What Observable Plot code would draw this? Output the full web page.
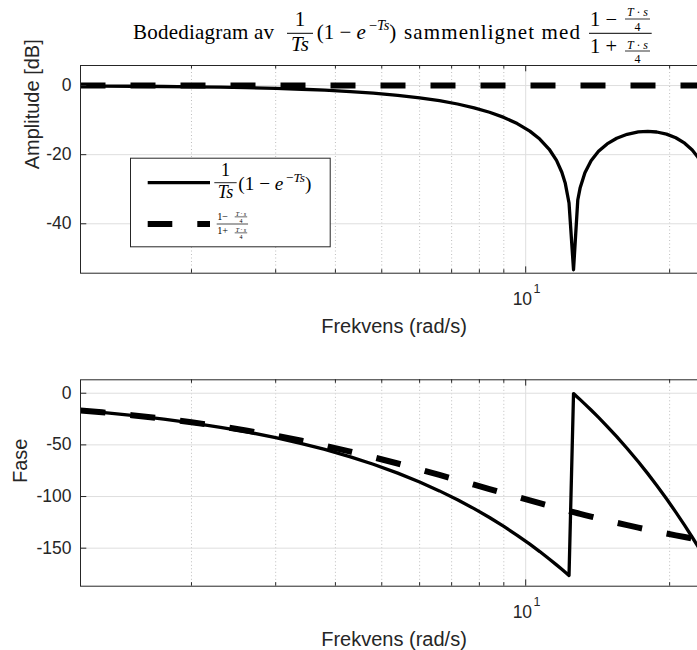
<!DOCTYPE html>
<html><head><meta charset="utf-8">
<script src="https://cdn.jsdelivr.net/npm/d3@7"></script>
<script src="https://cdn.jsdelivr.net/npm/@observablehq/plot@0.6"></script>
<style>
html,body{margin:0;padding:0;background:#fff;}
#wrap{position:relative;width:697px;height:650px;overflow:hidden;background:#fff;}
</style></head>
<body><div id="wrap"></div>
<script>
// ---- data ----
const freq = [1.172, 1.3, 1.5, 1.75, 2, 2.3, 2.6, 3, 3.4, 3.8, 4.3, 4.8, 5.4, 6, 6.6, 7.2, 7.8, 8.4, 9, 9.6, 10.2, 10.7, 11.2, 11.6, 11.9, 12.1, 12.32, 12.59, 12.85, 13.0, 13.3, 13.7, 14.2, 14.8, 15.5, 16.3, 17.2, 18, 18.8, 19.7, 20.6, 21.5, 22.3, 22.9, 23.5, 24];
const ampSolid = [-0.12, -0.15, -0.20, -0.28, -0.37, -0.48, -0.62, -0.83, -1.07, -1.35, -1.74, -2.20, -2.82, -3.54, -4.38, -5.34, -6.44, -7.72, -9.22, -11.01, -13.20, -15.49, -18.44, -21.67, -25.08, -28.30, -33.99, -53.3, -33.13, -29.55, -25.22, -21.76, -19.03, -16.88, -15.25, -14.10, -13.43, -13.26, -13.44, -14.05, -15.10, -16.67, -18.66, -20.68, -23.41, -26.64];
const phaseSolid = [-16.79, -18.62, -21.49, -25.07, -28.65, -32.94, -37.24, -42.97, -48.70, -54.43, -61.59, -68.75, -77.35, -85.94, -94.54, -103.13, -111.73, -120.32, -128.92, -137.51, -146.11, -153.27, -160.43, -166.16, -170.46, -173.32, -176.47, -0.34, -4.06, -6.21, -10.51, -16.24, -23.40, -31.99, -42.02, -53.48, -66.37, -77.83, -89.29, -102.18, -115.07, -127.96, -139.42, -148.02, -156.61, -163.77];
const phasePade = [-16.67, -18.46, -21.24, -24.68, -28.07, -32.08, -36.01, -41.11, -46.06, -50.83, -56.53, -61.93, -68.03, -73.74, -79.05, -83.97, -88.55, -92.79, -96.73, -100.39, -103.78, -106.44, -108.92, -110.81, -112.18, -113.06, -114.02, -115.17, -116.18, -116.76, -117.93, -119.44, -121.22, -123.23, -125.41, -127.71, -130.12, -132.07, -133.91, -135.78, -137.56, -139.18, -140.53, -141.49, -142.40, -143.13];
const ampPadeFreq = [1.172, 24];
const ampPade = [0, 0];

const ampTicks = [0, -20, -40];
const phaseTicks = [0, -50, -100, -150];
const majorX = [10];
const minorX = [2, 3, 4, 5, 6, 7, 8, 9, 20];
const xDomain = [1.172, 24];
const ampDomain = [-54.3, 5.8];
const phaseDomain = [-186.8, 13];
const xLabel = "Frekvens (rad/s)";
const ampLabel = "Amplitude [dB]";
const phaseLabel = "Fase";
const titleLead = "Bodediagram av";
const titleMid = "sammenlignet med";

const W = 707, ML = 80;

function panel({top, height, mt, mb, yDomain, yTicks, sFreq, solid, pFreq, pade, ylabel, ylabelDx}) {
  const ph = height - mt - mb;
  const pw = W - ML;
  const solidData = sFreq.map((f, i) => ({f, v: solid[i]}));
  const padeData = pFreq.map((f, i) => ({f, v: pade[i]}));
  const plot = Plot.plot({
    width: W, height, marginTop: mt, marginBottom: mb, marginLeft: ML, marginRight: 0,
    style: {fontFamily: '"Liberation Sans", Arial, sans-serif', fontSize: "17.5px", color: "#262626", background: "transparent", overflow: "visible", maxWidth: "none"},
    x: {type: "log", domain: xDomain, axis: null},
    y: {domain: yDomain, axis: null},
    marks: [
      Plot.ruleX(minorX, {stroke: "#bdbdbd", strokeWidth: 1, strokeDasharray: "1,2.5"}),
      Plot.ruleX(majorX, {stroke: "#dedede", strokeWidth: 1}),
      Plot.ruleY(yTicks, {stroke: "#dedede", strokeWidth: 1}),
      Plot.line(solidData, {x: "f", y: "v", stroke: "#000", strokeWidth: 3.3, clip: true, strokeLinejoin: "round"}),
      Plot.line(padeData, {x: "f", y: "v", stroke: "#000", strokeWidth: 6, strokeDasharray: "25,25", strokeLinecap: "butt", clip: true}),
      Plot.frame({stroke: "#262626", strokeWidth: 1}),
      Plot.ruleX(majorX, {stroke: "#262626", insetTop: ph - 6.3}),
      Plot.ruleX(majorX, {stroke: "#262626", insetBottom: ph - 6.3}),
      Plot.ruleX(minorX, {stroke: "#262626", insetTop: ph - 3.5}),
      Plot.ruleX(minorX, {stroke: "#262626", insetBottom: ph - 3.5}),
      Plot.ruleY(yTicks, {stroke: "#262626", insetRight: pw - 6.3}),
      Plot.axisY(yTicks, {tickSize: 0, tickPadding: 9, tickFormat: d => String(d), label: null}),
      Plot.text(majorX, {x: d => d, text: d => "10", frameAnchor: "bottom", dy: 31.3, dx: 6.4, textAnchor: "end", lineAnchor: "bottom", fontSize: 17.5, fill: "#262626"}),
      Plot.text(majorX, {x: d => d, text: d => String(Math.round(Math.log10(d))), frameAnchor: "bottom", dy: 19.5, dx: 7.7, textAnchor: "start", lineAnchor: "bottom", fontSize: 12.5, fill: "#262626"}),
      Plot.text([xLabel], {text: d => d, frameAnchor: "bottom", dy: 59.3, lineAnchor: "bottom", fontSize: 20, fill: "#262626"}),
      Plot.text([ylabel], {text: d => d, frameAnchor: "left", dx: -ylabelDx, rotate: -90, lineAnchor: "bottom", fontSize: 20, fill: "#262626"})
    ]
  });
  plot.style.position = "absolute";
  plot.style.left = "0px";
  plot.style.top = top + "px";
  return plot;
}

const wrap = document.getElementById("wrap");
wrap.appendChild(panel({top: 0, height: 340, mt: 65, mb: 67.3, yDomain: ampDomain, yTicks: ampTicks,
  sFreq: freq, solid: ampSolid, pFreq: ampPadeFreq, pade: ampPade, ylabel: ampLabel, ylabelDx: 42}));
wrap.appendChild(panel({top: 340, height: 310, mt: 39.3, mb: 64.3, yDomain: phaseDomain, yTicks: phaseTicks,
  sFreq: freq, solid: phaseSolid, pFreq: freq, pade: phasePade, ylabel: phaseLabel, ylabelDx: 54}));

// ---- title & legend overlay (text set like LaTeX) ----
const ov = d3.select(wrap).append("svg")
  .attr("width", 697).attr("height", 650)
  .style("position", "absolute").style("left", "0px").style("top", "0px")
  .attr("font-family", '"Liberation Serif","Times New Roman",serif')
  .attr("fill", "#000");

// parts: [string, italic, fontSize?, dy?]
function mtxt(g, x, y, parts, {size = 21, anchor = "start", len = null} = {}) {
  const t = g.append("text").attr("x", x).attr("y", y).attr("font-size", size).attr("text-anchor", anchor);
  for (const [s, it, fs, dy] of parts) {
    const sp = t.append("tspan").text(s);
    if (it) sp.attr("font-style", "italic");
    if (fs) sp.attr("font-size", fs);
    if (dy) sp.attr("dy", dy);
  }
  if (len) t.attr("textLength", len).attr("lengthAdjust", "spacing");
  return t;
}
function bar(g, x1, x2, y, w) {
  g.append("line").attr("x1", x1).attr("x2", x2).attr("y1", y).attr("y2", y).attr("stroke", "#000").attr("stroke-width", w);
}
// 1/(Ts)
function frac1(g, x0, y0, s) {
  bar(g, x0, x0 + 26 * s, y0, Math.max(0.8, s));
  mtxt(g, x0 + 13 * s, y0 - 7.3 * s, [["1", false]], {size: 21 * s, anchor: "middle"});
  mtxt(g, x0 + 13 * s, y0 + 18 * s, [["Ts", true]], {size: 21 * s, anchor: "middle"});
}
// (1 − e^{−Ts})
function expo(g, x0, y0, s) {
  const big = 21 * s, sup = 14.5 * s, up = 9 * s;
  mtxt(g, x0, y0, [
    ["(1 − ", false],
    ["e", true],
    ["\u2009−", false, sup, -up],
    ["Ts", true, sup],
    [")", false, big, up]
  ], {size: big});
}
// (1 − T·s/4)/(1 + T·s/4)
function frac2(g, x0, y0, s, tight) {
  const big = 20.5 * s, small = 12 * s;
  bar(g, x0, x0 + 62.7 * s, y0, Math.max(0.7, s));
  mtxt(g, x0 + 1 * s, y0 - 7.3 * s, [[tight ? "1−" : "1 −", false]], {size: big});
  mtxt(g, x0 + 1 * s, y0 + 19.4 * s, [[tight ? "1+" : "1 +", false]], {size: big});
  for (const [nb, bb, db] of [[-17, -14.3, -2.6], [15.2, 17.7, 30]]) {
    mtxt(g, x0 + 48.5 * s, y0 + nb * s, [["T", true], [" · ", false], ["s", true]], {size: small, anchor: "middle", len: 21 * s});
    bar(g, x0 + 36 * s, x0 + 61 * s, y0 + bb * s, Math.max(0.6, 0.8 * s));
    mtxt(g, x0 + 48.5 * s, y0 + db * s, [["4", false]], {size: small, anchor: "middle"});
  }
}

const tg = ov.append("g");
mtxt(tg, 133, 39.3, [[titleLead, false]], {size: 21, len: 141});
frac1(tg, 287, 33.3, 1);
expo(tg, 316.7, 39.3, 1);
mtxt(tg, 404, 39.3, [[titleMid, false]], {size: 21, len: 176});
frac2(tg, 589, 33.3, 1, false);

const lg = ov.append("g");
lg.append("rect").attr("x", 130.5).attr("y", 158.2).attr("width", 199.7).attr("height", 88.6)
  .attr("fill", "#fff").attr("stroke", "#262626").attr("stroke-width", 1);
lg.append("line").attr("x1", 147.7).attr("x2", 210).attr("y1", 182.7).attr("y2", 182.7)
  .attr("stroke", "#000").attr("stroke-width", 3.3);
lg.append("line").attr("x1", 147.7).attr("x2", 210).attr("y1", 224).attr("y2", 224)
  .attr("stroke", "#000").attr("stroke-width", 6).attr("stroke-dasharray", "24.6,25");
frac1(lg, 214.3, 182.7, 0.86);
expo(lg, 238.3, 190, 0.9175);
frac2(lg, 216.7, 224, 0.5, true);
</script>
</body></html>
